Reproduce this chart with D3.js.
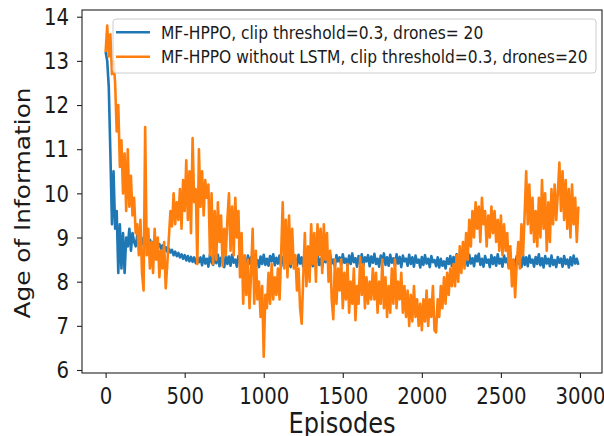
<!DOCTYPE html>
<html>
<head>
<meta charset="utf-8">
<script src="https://cdn.jsdelivr.net/npm/d3@7"></script>
<style>
  body { margin: 0; background: #fff; }
  svg text { font-family: "DejaVu Sans", sans-serif; fill: #1a1a1a; }
</style>
</head>
<body>
<div id="chart"></div>
<script>
// one value every 10 episodes (0 .. 2990)
const episodeStep = 10;

const seriesNames = [
    "MF-HPPO, clip threshold=0.3, drones= 20",
    "MF-HPPO without LSTM, clip threshold=0.3, drones=20"
];

const hppoValues = [
    13.2, 13.0, 12.4, 10.9, 9.3, 10.5, 9.2, 9.6, 8.2, 9.3,
    8.3, 9.1, 8.2, 9.0, 8.8, 9.2, 8.7, 9.1, 8.9, 8.8,
    9.05, 8.9, 9.0, 8.85, 9.0, 8.9, 8.95, 8.8, 8.95, 8.85,
    8.9, 8.8, 8.9, 8.78, 8.85, 8.75, 8.82, 8.7, 8.78, 8.68,
    8.75, 8.66, 8.72, 8.6, 8.68, 8.58, 8.65, 8.55, 8.62, 8.52,
    8.6, 8.48, 8.58, 8.46, 8.56, 8.45, 8.55, 8.42, 8.54, 8.44,
    8.55, 8.37, 8.59, 8.41, 8.52, 8.34, 8.62, 8.44, 8.38, 8.58,
    8.42, 8.61, 8.35, 8.54, 8.46, 8.33, 8.59, 8.40, 8.57, 8.36,
    8.61, 8.43, 8.50, 8.34, 8.58, 8.44, 8.62, 8.38, 8.52, 8.35,
    8.59, 8.41, 8.55, 8.37, 8.62, 8.43, 8.49, 8.33, 8.57, 8.40,
    8.61, 8.38, 8.52, 8.36, 8.58, 8.46, 8.62, 8.37, 8.54, 8.41,
    8.59, 8.34, 8.55, 8.44, 8.62, 8.38, 8.50, 8.33, 8.58, 8.43,
    8.52, 8.36, 8.61, 8.41, 8.55, 8.34, 8.59, 8.46, 8.63, 8.39,
    8.53, 8.35, 8.58, 8.43, 8.62, 8.38, 8.52, 8.33, 8.59, 8.44,
    8.56, 8.36, 8.62, 8.41, 8.50, 8.34, 8.60, 8.46, 8.55, 8.38,
    8.62, 8.43, 8.52, 8.35, 8.59, 8.40, 8.64, 8.44, 8.53, 8.34,
    8.58, 8.41, 8.62, 8.36, 8.55, 8.46, 8.60, 8.35, 8.57, 8.43,
    8.63, 8.40, 8.52, 8.34, 8.59, 8.44, 8.64, 8.38, 8.55, 8.36,
    8.61, 8.43, 8.53, 8.35, 8.62, 8.41, 8.56, 8.33, 8.59, 8.46,
    8.52, 8.36, 8.61, 8.40, 8.55, 8.34, 8.59, 8.43, 8.50, 8.32,
    8.56, 8.38, 8.60, 8.41, 8.52, 8.33, 8.58, 8.44, 8.49, 8.35,
    8.55, 8.32, 8.52, 8.36, 8.46, 8.30, 8.53, 8.40, 8.58, 8.35,
    8.56, 8.43, 8.62, 8.38, 8.52, 8.34, 8.60, 8.44, 8.55, 8.36,
    8.61, 8.41, 8.53, 8.35, 8.59, 8.46, 8.63, 8.38, 8.52, 8.34,
    8.58, 8.43, 8.50, 8.33, 8.60, 8.40, 8.55, 8.36, 8.62, 8.41,
    8.52, 8.34, 8.59, 8.44, 8.53, 8.32, 8.56, 8.40, 8.49, 8.35,
    8.58, 8.41, 8.52, 8.33, 8.60, 8.38, 8.55, 8.35, 8.59, 8.43,
    8.50, 8.34, 8.56, 8.40, 8.62, 8.37, 8.53, 8.32, 8.58, 8.41,
    8.52, 8.35, 8.59, 8.38, 8.49, 8.33, 8.56, 8.43, 8.52, 8.34,
    8.58, 8.40, 8.50, 8.32, 8.55, 8.37, 8.59, 8.41, 8.52, 8.38
];

const noLstmValues = [
    13.2, 13.8, 13.1, 13.6, 12.7, 13.0, 12.5, 11.4, 12.0, 10.6,
    11.2, 10.0, 10.9, 9.6, 11.0, 9.7, 10.4, 9.5, 9.9, 9.1,
    9.3, 8.6, 9.4, 8.2, 7.8, 11.5, 8.6, 9.2, 8.3, 8.9,
    8.2, 9.2, 8.5, 9.0, 8.1, 8.7, 8.3, 8.9, 7.85, 8.4,
    9.0, 9.6, 9.25, 10.0, 9.3, 9.8, 9.4, 10.1, 9.2, 10.3,
    9.6, 10.75, 9.4, 10.5, 9.1, 11.25, 9.8, 10.1, 8.4, 11.0,
    9.7, 10.5, 9.5, 10.3, 9.9, 10.2, 8.6, 10.0, 8.4, 9.6,
    8.5, 9.8, 8.9, 9.5, 8.35, 9.2, 8.6, 9.4, 10.0, 8.7,
    9.7, 8.6, 9.9, 9.0, 9.6, 8.1, 9.1, 7.5, 8.6, 7.7,
    8.5, 7.4, 8.2, 9.2, 7.5, 8.7, 7.6, 8.0, 7.2, 7.9,
    6.3, 7.7, 7.4, 8.2, 7.5, 8.4, 7.6, 8.1, 7.7, 8.3,
    7.6, 8.6, 9.8, 8.3, 9.4, 8.1, 9.5, 8.4, 9.2, 8.3,
    8.6, 7.8, 8.3, 7.4, 7.05, 8.1, 9.1, 7.9, 8.8, 8.0,
    9.3, 8.4, 9.1, 8.0, 9.3, 8.6, 9.2, 8.2, 9.3, 8.5,
    9.1, 8.0, 8.7, 7.6, 7.15, 8.5, 7.5, 8.3, 7.8, 8.5,
    7.4, 8.2, 7.6, 8.4, 7.3, 8.0, 7.5, 8.3, 7.13, 7.9,
    7.5, 8.55, 7.7, 8.4, 7.4, 8.1, 7.5, 8.0, 7.6, 8.3,
    7.6, 8.2, 7.3, 8.0, 7.5, 8.5, 7.4, 8.1, 7.2, 7.9,
    7.3, 8.3, 7.5, 8.5, 7.4, 8.0, 7.6, 8.2, 7.3, 7.9,
    7.2, 7.8, 7.0, 7.7, 7.1, 7.9, 7.2, 7.6, 7.0, 7.5,
    6.9, 7.6, 7.1, 7.8, 7.0, 7.6, 7.2, 7.9, 6.9, 6.85,
    7.6, 7.2, 7.9, 7.4, 8.1, 7.5, 8.2, 7.7, 8.3, 7.9,
    8.4, 7.9, 8.6, 8.0, 8.8, 8.2, 8.9, 8.3, 9.1, 8.5,
    9.4, 8.8, 9.6, 9.0, 9.8, 9.2, 9.7, 8.9, 9.9, 9.3,
    9.6, 8.8, 9.5, 9.0, 9.7, 9.1, 9.6, 8.9, 9.4, 8.7,
    9.5, 8.6, 9.3, 8.7, 9.1, 8.3, 8.8, 7.9, 8.5, 7.65,
    8.4, 8.9, 8.3, 9.3, 8.6, 9.5, 10.5, 9.3, 10.2, 9.1,
    9.9, 8.9, 9.6, 8.8, 9.9, 9.0, 10.3, 9.2, 10.0, 8.7,
    9.8, 8.9, 10.1, 9.3, 10.2, 9.4, 10.0, 10.7, 9.6, 10.5,
    9.4, 10.3, 9.2, 10.1, 9.0, 10.2, 9.3, 9.9, 8.9, 9.7
];

const xTicks = [0, 500, 1000, 1500, 2000, 2500, 3000];
const yTicks = [6, 7, 8, 9, 10, 11, 12, 13, 14];
const colors = ["#1f77b4", "#ff7f0e"];

const width = 604, height = 436;
const plot = {left: 82, right: 602, top: 10, bottom: 373};
// the picture is squeezed sideways, so text gets the same squeeze
const sx = 0.86;

const svg = d3.select("#chart").append("svg")
    .attr("width", width)
    .attr("height", height);

const x = d3.scaleLinear()
    .domain([-149.5, 3139.5])
    .range([plot.left, plot.right]);

const y = d3.scaleLinear()
    .domain([5.932, 14.152])
    .range([plot.bottom, plot.top]);

svg.append("clipPath")
    .attr("id", "plotClip")
    .append("rect")
    .attr("x", plot.left)
    .attr("y", plot.top)
    .attr("width", plot.right - plot.left)
    .attr("height", plot.bottom - plot.top);

const line = d3.line()
    .x((d, i) => x(i * episodeStep))
    .y(d => y(d));

const lines_g = svg.append("g")
    .attr("clip-path", "url(#plotClip)");

[hppoValues, noLstmValues].forEach(function(values, k) {
    lines_g.append("path")
        .datum(values)
        .attr("d", line)
        .attr("fill", "none")
        .attr("stroke", colors[k])
        .attr("stroke-width", 2.6)
        .attr("stroke-linejoin", "round");
});

// axes
const xAxis = svg.append("g")
    .attr("transform", "translate(0," + plot.bottom + ")")
    .call(d3.axisBottom(x).tickValues(xTicks).tickFormat(d3.format("d")).tickSize(5).tickSizeOuter(0));

const yAxis = svg.append("g")
    .attr("transform", "translate(" + plot.left + ",0)")
    .call(d3.axisLeft(y).tickValues(yTicks).tickFormat(d3.format("d")).tickSize(5).tickSizeOuter(0));

[xAxis, yAxis].forEach(function(ax) {
    ax.select(".domain").remove();
    ax.selectAll(".tick line").attr("stroke", "#222").attr("stroke-width", 1.1);
    ax.selectAll(".tick text")
        .attr("fill", "#1a1a1a")
        .style("font-size", "22.9px");
});

xAxis.selectAll(".tick text")
    .attr("y", 15)
    .attr("dy", "0.71em")
    .attr("transform", "scale(" + sx + ",1)");

yAxis.selectAll(".tick text")
    .attr("x", -13 / sx)
    .attr("dy", "0.34em")
    .attr("transform", "scale(" + sx + ",1)");

// frame
svg.append("rect")
    .attr("x", plot.left)
    .attr("y", plot.top)
    .attr("width", plot.right - plot.left)
    .attr("height", plot.bottom - plot.top)
    .attr("fill", "none")
    .attr("stroke", "#222")
    .attr("stroke-width", 1.1);

// axis titles
svg.append("text")
    .attr("transform", "translate(" + ((plot.left + plot.right) / 2) + ",433) scale(" + sx + ",1)")
    .attr("text-anchor", "middle")
    .style("font-size", "28px")
    .text("Episodes");

svg.append("text")
    .attr("transform", "translate(30," + ((88 + 318) / 2) + ") scale(" + sx + ",1) rotate(-90)")
    .attr("text-anchor", "middle")
    .style("font-size", "24.8px")
    .text("Age of Information");

// legend
const legend = svg.append("g");

legend.append("rect")
    .attr("x", 113)
    .attr("y", 19)
    .attr("width", 483)
    .attr("height", 54)
    .attr("rx", 3)
    .attr("fill", "#fff")
    .attr("fill-opacity", 0.8)
    .attr("stroke", "#cccccc")
    .attr("stroke-width", 1);

seriesNames.forEach(function(name, k) {
    const rowY = 32.3 + k * 24.4;
    legend.append("line")
        .attr("x1", 116)
        .attr("x2", 150)
        .attr("y1", rowY)
        .attr("y2", rowY)
        .attr("stroke", colors[k])
        .attr("stroke-width", 2.6);
    legend.append("text")
        .attr("transform", "translate(161," + rowY + ") scale(" + sx + ",1)")
        .attr("dy", "0.35em")
        .style("font-size", "18px")
        .text(name);
});
</script>
</body>
</html>
